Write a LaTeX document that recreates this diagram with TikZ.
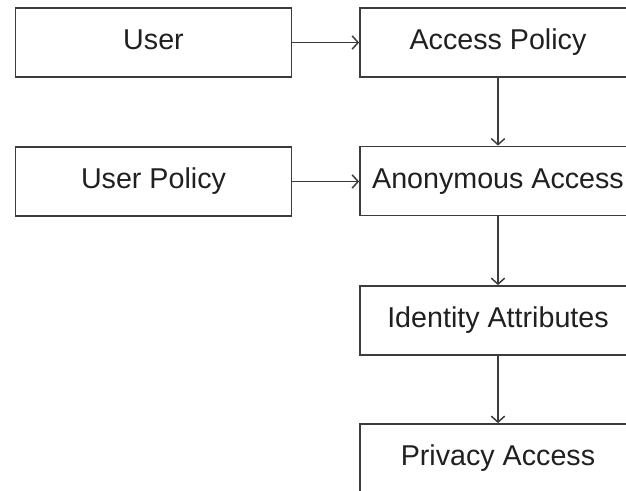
\documentclass[tikz,border=0pt]{standalone}
\usepackage{fontspec}
\setmainfont{Liberation Sans}
\usetikzlibrary{arrows.meta}
\definecolor{edgegray}{HTML}{3C3C3C}
\definecolor{textgray}{HTML}{202020}
\tikzset{
  box/.style={draw=edgegray, line width=1.3pt, fill=white, rectangle,
    minimum width=207pt, minimum height=51.75pt, inner sep=0pt,
    text height=16pt, text depth=4.8pt,
    font=\fontsize{21.5pt}{24pt}\selectfont, text=textgray},
  flow/.style={draw=edgegray, line width=1.4pt,
    -{Straight Barb[length=4.5pt,width=10pt,line width=1.1pt]}}
}
\begin{document}
\begin{tikzpicture}[x=0.75pt, y=-0.75pt]
  \useasboundingbox (0,0) rectangle (626,491);
  \clip (0,0) rectangle (626,491);
  \fill[white] (0,0) rectangle (626,491);

  % left column
  \node[box] (user)   at (153.5,42.5) {User};
  \node[box] (upol)   at (153.5,181.5) {User Policy};

  % right column
  \node[box] (apol)   at (498,42.5)  {Access Policy};
  \node[box] (anon)   at (498,181)   {Anonymous Access};
  \node[box] (ident)  at (498,320.5) {Identity Attributes};
  \node[box] (priv)   at (498,458.5) {Privacy Access};

  % connectors
  \draw[flow] (user.east) -- (apol.west);
  \draw[flow] (upol.east) -- (anon.west |- upol.east);
  \draw[flow] (apol.south) -- (anon.north);
  \draw[flow] (anon.south) -- (ident.north);
  \draw[flow] (ident.south) -- (priv.north);
\end{tikzpicture}
\end{document}
